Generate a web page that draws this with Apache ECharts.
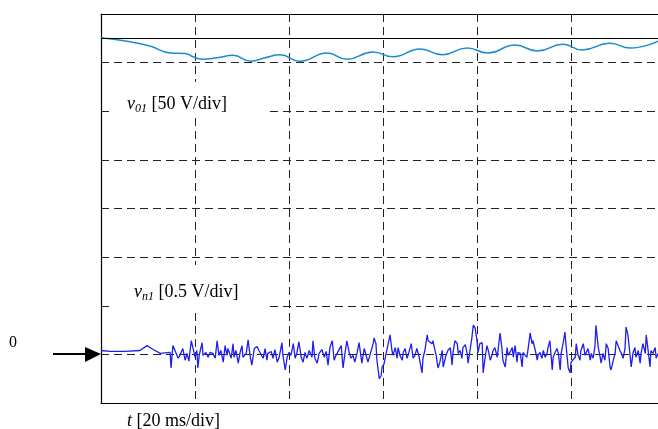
<!DOCTYPE html>
<html>
<head>
<meta charset="utf-8">
<script src="https://cdn.jsdelivr.net/npm/echarts@6/dist/echarts.min.js"></script>
<style>html,body{margin:0;padding:0;background:#fff}#c{width:658px;height:429px}</style>
</head>
<body>
<div id="c"></div>
<script>
// time axis: ms, 20 ms/div (visible window ends at 118.5 ms) ; vertical axis: screen divisions (0..8)
var xMin = 0, xMax = 118.5, xStep = 20;
var yMin = 0, yMax = 8, yStep = 1;
var refLineDiv = 7.5;

// v01 trace (screen divisions, 50 V/div)
var v01T = [0, 6.2, 10.4, 14.7, 17.9, 19.6, 21.7, 24.7, 28.1, 31.9, 34.9, 38.1, 42.3, 48.1, 52.3, 57.9, 62.1, 67.9, 72.6, 77.9, 82.3, 88.1, 92.8, 98.3, 102.3, 108.3, 112.6, 118.5];
var v01Div = [7.51, 7.43, 7.34, 7.20, 7.19, 7.12, 7.07, 7.10, 7.15, 7.03, 7.10, 7.16, 7.03, 7.20, 7.07, 7.22, 7.12, 7.28, 7.16, 7.30, 7.20, 7.36, 7.24, 7.38, 7.26, 7.40, 7.30, 7.44];

// vn1 trace (volts, 0.5 V/div, zero at division 1)
var vn1Zero = 1;
var vn1Scale = 0.5;
var vn1T = [0,1.9,5.1,8.3,9.8,11.1,12.6,14.7,14.9,15.3,16.0,16.4,16.8,17.4,17.9,18.3,18.7,19.2,19.6,20.0,20.4,20.6,20.9,21.5,21.7,22.3,22.8,23.2,23.8,24.3,24.7,25.1,25.5,26.0,26.4,26.8,27.0,27.7,28.1,28.3,28.7,29.2,29.6,30.0,30.2,30.9,31.3,31.7,32.1,32.6,33.2,33.6,
34.5,34.9,35.3,35.5,36.2,36.6,37.0,37.5,37.9,38.5,38.7,39.2,39.6,40.0,40.4,40.9,41.3,41.7,42.1,42.6,43.0,43.4,43.8,44.3,44.9,45.1,45.5,46.0,46.4,47.0,47.5,47.9,48.3,48.7,49.2,49.6,50.0,50.4,51.1,51.5,51.9,52.3,52.8,53.2,53.6,54.0,54.5,54.9,
55.5,56.0,56.4,56.8,57.2,57.9,58.1,58.5,58.7,59.2,59.6,59.8,60.2,60.6,61.1,61.5,61.9,62.1,62.6,63.0,63.2,63.6,64.1,64.3,64.7,65.1,65.5,66.0,66.4,66.8,67.2,67.7,68.3,68.5,68.9,69.4,69.6,70.0,70.4,70.6,71.3,71.7,72.1,72.6,72.8,73.4,73.8,74.3,74.7,74.9,75.3,75.8,76.0,76.4,
76.8,77.0,77.5,77.9,78.1,78.5,78.9,79.2,79.6,80.0,80.2,80.6,81.1,81.3,81.7,82.1,82.4,82.8,83.2,83.4,83.8,84.3,84.5,84.9,85.3,85.5,86.0,86.4,86.6,87.0,87.5,87.7,88.1,88.5,88.7,89.2,89.6,89.8,90.2,90.6,90.9,91.3,91.7,91.9,92.4,92.8,93.0,93.4,93.8,94.1,94.5,94.9,95.1,95.5,96.0,96.2,96.6,97.0,97.3,
97.7,97.9,98.3,98.7,98.9,99.4,99.8,100.0,100.4,100.9,101.1,101.5,101.9,102.1,102.6,103.0,103.2,103.6,104.1,104.3,104.7,105.1,105.3,105.8,106.2,106.4,106.8,107.2,107.5,107.9,108.3,108.5,109.0,109.4,109.6,110.0,110.4,110.7,111.1,111.5,111.7,112.1,112.6,112.8,113.2,113.6,113.8,114.3,114.7,114.9,115.3,115.8,116.0,116.4,116.8,117.0,117.4,117.9,118.1,118.5];
var vn1V = [0.04,0.03,0.03,0.04,0.09,0.05,0.01,0.02,-0.14,0.09,0.01,-0.04,-0.01,0.06,-0.06,0.01,-0.07,0.14,0.06,-0.03,0.04,-0.14,-0.01,0.12,-0.01,0.02,-0.03,0.02,0.01,-0.04,0.14,-0.01,0.04,-0.08,0.09,-0.01,0.06,-0.04,0.11,-0.03,0.04,-0.09,0.02,0.09,-0.03,0.01,0.15,-0.01,-0.11,0.06,0.08,0.04,
-0.04,0.06,-0.06,0.01,0.03,-0.04,0.05,-0.08,-0.03,0.12,-0.01,-0.16,-0.03,0.02,-0.01,0.11,-0.04,0.02,0.13,-0.03,-0.08,0.02,-0.04,0.04,-0.03,0.14,-0.04,-0.09,0.01,0.05,-0.03,0.03,-0.11,0.07,0.14,-0.06,-0.01,0.01,0.09,-0.14,0.01,0.14,0.02,-0.04,-0.01,-0.08,0.02,0.12,
-0.09,0.06,0.07,-0.08,-0.01,0.11,0.17,0.11,-0.06,-0.25,-0.22,-0.13,-0.10,-0.11,0.11,0.20,0.04,-0.01,0.07,-0.04,0.07,-0.01,-0.06,0.02,0.06,-0.04,0.02,0.11,-0.04,-0.01,0.06,-0.03,-0.19,-0.04,0.04,0.20,0.14,0.16,0.11,0.14,-0.01,-0.14,-0.08,0.04,-0.13,-0.01,0.04,0.07,-0.11,0.02,0.14,0.11,0.01,0.04,
-0.04,0.07,0.10,0.01,-0.09,0.04,0.17,0.30,0.27,0.14,0.02,0.11,0.12,-0.19,-0.04,0.09,0.04,-0.06,-0.01,0.04,0.07,-0.03,-0.01,0.22,0.06,-0.06,-0.13,0.07,-0.01,0.02,0.07,-0.03,0.09,-0.08,0.02,0.01,-0.13,0.02,0.04,-0.03,0.07,0.22,0.11,0.14,0.04,-0.06,-0.01,0.02,-0.04,0.04,-0.03,0.01,0.07,0.14,-0.16,-0.03,0.02,0.06,0.01,
-0.16,0.01,0.11,0.23,0.11,-0.14,-0.19,-0.08,-0.09,-0.03,0.11,-0.01,-0.06,0.04,0.11,-0.01,-0.03,0.06,-0.06,0.01,-0.04,0.09,0.30,0.07,-0.03,-0.09,0.01,-0.06,0.11,0.06,-0.13,-0.16,-0.06,0.02,0.14,0.09,0.04,0.01,-0.04,0.07,0.28,0.20,-0.03,-0.13,0.02,0.07,-0.03,0.04,-0.09,0.01,0.11,0.01,0.20,0.04,-0.13,0.04,0.01,0.07,-0.04,0.01];

var v01Data = v01T.map(function (t, i) { return [t, v01Div[i]]; });
var vn1Data = vn1T.map(function (t, i) { return [t, vn1Zero + vn1V[i] / vn1Scale]; });

var serif = '"Liberation Serif", "Times New Roman", serif';
var dash = [8, 5];
var fs = 18;
var richLab = {
  i: { fontFamily: serif, fontStyle: 'italic', fontSize: fs, fill: '#000' },
  s: { fontFamily: serif, fontStyle: 'italic', fontSize: 12, fill: '#000', padding: [9, 0, 0, 0] },
  n: { fontFamily: serif, fontSize: fs, fill: '#000' }
};

var chart = echarts.init(document.getElementById('c'), null, { renderer: 'canvas' });
chart.setOption({
  animation: false,
  backgroundColor: '#fff',
  grid: { left: 101, top: 14, right: 0, bottom: 26, show: false },
  xAxis: [
    {
      type: 'value', min: xMin, max: xMax, interval: xStep, position: 'bottom',
      axisLine: { show: true, onZero: false, lineStyle: { color: '#000', width: 1.2 } },
      axisTick: { show: false }, axisLabel: { show: false },
      splitLine: { show: true, showMinLine: false, showMaxLine: false, lineStyle: { color: '#222', width: 1, type: dash } }
    },
    {
      type: 'value', min: xMin, max: xMax, interval: xStep, position: 'top',
      axisLine: { show: true, onZero: false, lineStyle: { color: '#000', width: 1.2 } },
      axisTick: { show: false }, axisLabel: { show: false }, splitLine: { show: false }
    }
  ],
  yAxis: {
    type: 'value', min: yMin, max: yMax, interval: yStep,
    axisLine: { show: true, onZero: false, lineStyle: { color: '#000', width: 1.2 } },
    axisTick: { show: false }, axisLabel: { show: false },
    splitLine: { show: true, showMinLine: false, showMaxLine: false, lineStyle: { color: '#222', width: 1, type: dash } }
  },
  series: [
    {
      type: 'line', data: v01Data, smooth: true, showSymbol: false,
      lineStyle: { color: '#1a8ccf', width: 1.5 },
      markLine: {
        silent: true, symbol: 'none', label: { show: false },
        lineStyle: { color: '#000', type: 'solid', width: 1.2 },
        data: [{ yAxis: refLineDiv }]
      }
    },
    {
      type: 'line', data: vn1Data, showSymbol: false,
      lineStyle: { color: '#1e1ef0', width: 1.3 }
    }
  ],
  graphic: [
    { type: 'rect', z: 50, shape: { x: 110, y: 82, width: 158, height: 34 }, style: { fill: '#fff' } },
    { type: 'rect', z: 50, shape: { x: 110, y: 265, width: 160, height: 44 }, style: { fill: '#fff' } },
    { type: 'text', z: 60, left: 127, top: 95, style: { text: '{i|v}{s|01}{n| [50 V/div]}', rich: richLab } },
    { type: 'text', z: 60, left: 134, top: 283, style: { text: '{i|v}{s|n1}{n| [0.5 V/div]}', rich: richLab } },
    { type: 'text', z: 60, left: 127, top: 412, style: { text: '{i|t}{n| [20 ms/div]}', rich: richLab } },
    { type: 'text', z: 60, left: 9, top: 335, style: { text: '0', fontFamily: serif, fontSize: 16, fill: '#000' } },
    { type: 'line', z: 60, shape: { x1: 53, y1: 354, x2: 88, y2: 354 }, style: { stroke: '#000', lineWidth: 2 } },
    { type: 'polygon', z: 60, shape: { points: [[85, 347], [101, 354], [85, 362]] }, style: { fill: '#000' } }
  ]
});
</script>
</body>
</html>
